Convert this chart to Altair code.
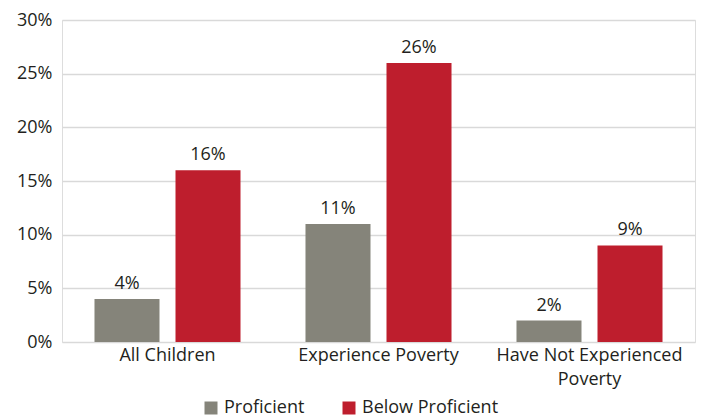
import altair as alt
import pandas as pd

categories = ["All Children", "Experience Poverty", "Have Not Experienced Poverty"]
groups = ["Proficient", "Below Proficient"]
proficient = [4, 11, 2]
below_proficient = [16, 26, 9]

rows = []
for i, cat in enumerate(categories):
    rows.append({"category": cat, "group": groups[0], "value": proficient[i] / 100})
    rows.append({"category": cat, "group": groups[1], "value": below_proficient[i] / 100})
df = pd.DataFrame(rows)

FONT = "Open Sans"
TEXT = "#231F20"
FS = 18

x_enc = alt.X(
    "category:N",
    sort=categories,
    title=None,
    scale=alt.Scale(paddingInner=0, paddingOuter=0),
    axis=alt.Axis(
        labelAngle=0,
        labelFontSize=FS,
        labelFont=FONT,
        labelColor=TEXT,
        labelPadding=4,
        labelLineHeight=24,
        ticks=False,
        domain=False,
        labelLimit=300,
        labelExpr="datum.label == 'Have Not Experienced Poverty' ? ['Have Not Experienced', 'Poverty'] : datum.label",
    ),
)
xoff = alt.XOffset(
    "group:N",
    sort=groups,
    scale=alt.Scale(paddingInner=0.1975, paddingOuter=0.401),
)
y_enc = alt.Y(
    "value:Q",
    title=None,
    scale=alt.Scale(domain=[0, 0.30]),
    axis=alt.Axis(
        format=".0%",
        values=[0, 0.05, 0.10, 0.15, 0.20, 0.25, 0.30],
        labelFontSize=FS,
        labelFont=FONT,
        labelColor=TEXT,
        labelPadding=10,
        ticks=False,
        domain=False,
        gridColor="#D9D9D9",
        gridWidth=1.5,
    ),
)

bars = alt.Chart(df).mark_bar().encode(
    x=x_enc,
    xOffset=xoff,
    y=y_enc,
    color=alt.Color(
        "group:N",
        sort=groups,
        scale=alt.Scale(domain=groups, range=["#85847A", "#BE1E2D"]),
        legend=alt.Legend(
            title=None,
            orient="none",
            direction="horizontal",
            legendX=140,
            legendY=379,
            symbolType="square",
            symbolSize=169,
            symbolStrokeWidth=0,
            symbolOpacity=1,
            labelFontSize=FS,
            labelFont=FONT,
            labelColor=TEXT,
            labelOffset=4,
            columnPadding=35,
            labelLimit=300,
        ),
    ),
)

labels = alt.Chart(df).mark_text(
    baseline="bottom", dy=-6, fontSize=FS, font=FONT, color=TEXT
).encode(
    x=alt.X("category:N", sort=categories),
    xOffset=alt.XOffset("group:N", sort=groups),
    y="value:Q",
    text=alt.Text("value:Q", format=".0%"),
)

chart = (
    alt.layer(bars, labels)
    .properties(
        width=633,
        height=322,
        autosize=alt.AutoSizeParams(type="none"),
        padding={"left": 62, "top": 20, "right": 9, "bottom": 75},
    )
    .configure_view(stroke=None)
    .configure(background="white")
)

chart.save("out.html", embed_options={"renderer": "svg", "actions": False})
